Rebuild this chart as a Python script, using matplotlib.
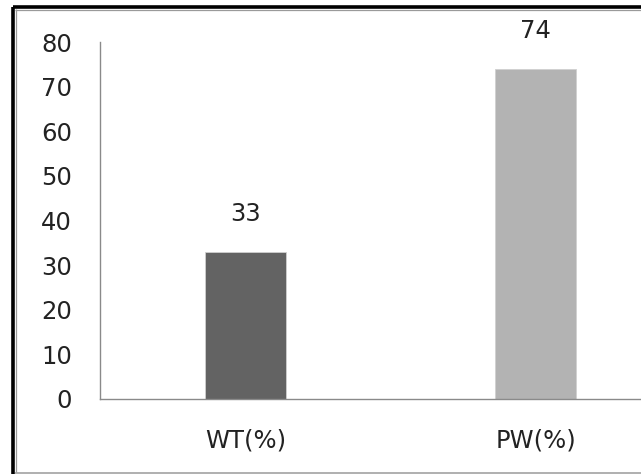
import matplotlib
matplotlib.use("Agg")
import matplotlib.pyplot as plt
from matplotlib.lines import Line2D

categories = ["WT(%)", "PW(%)"]
values = [33, 74]
bar_colors = ["#636363", "#b3b3b3"]
y_ticks = [0, 10, 20, 30, 40, 50, 60, 70, 80]

W, H = 641, 474
fig = plt.figure(figsize=(W / 100, H / 100), dpi=100)
fig.patch.set_facecolor("white")

plt.rcParams["font.family"] = ["DejaVu Sans"]
FS = 17.5
TXT = "#222222"

# axes spans wider than the figure so the right side is cropped
ax = fig.add_axes([100 / W, 75 / H, 581 / W, 357 / H])
x = list(range(len(categories)))
ax.bar(x, values, width=0.28, color=bar_colors, edgecolor="#d0d0d0", linewidth=0.6, zorder=2)

for xi, v in zip(x, values):
    ax.annotate(str(v), (xi, v), xytext=(0, 22), textcoords="offset points",
                ha="center", va="baseline", fontsize=FS, color=TXT)

ax.set_xlim(-0.5, 1.5)
ax.set_ylim(0, 80)
ax.set_yticks(y_ticks)
ax.set_xticks(x)
ax.set_xticklabels(categories)
ax.tick_params(axis="both", length=0, labelsize=FS, labelcolor=TXT)
ax.tick_params(axis="y", pad=20)
ax.tick_params(axis="x", pad=21)

for side in ("top", "right"):
    ax.spines[side].set_visible(False)
for side in ("left", "bottom"):
    ax.spines[side].set_color("#8a8a8a")
    ax.spines[side].set_linewidth(1.0)

# frame around the chart: dark left/top edge with a soft inner shade
def px(xp, yp):
    return xp / W, 1 - yp / H

def seg(x0, y0, x1, y1, color, lw):
    (a, b), (c, d) = px(x0, y0), px(x1, y1)
    fig.add_artist(Line2D([a, c], [b, d], color=color, linewidth=lw,
                          transform=fig.transFigure, solid_capstyle="butt"))

seg(13, 7, W, 7, "black", 2.6)
seg(13, 7, 13, 474, "black", 2.6)
seg(15, 9.5, W, 9.5, "#9a9a9a", 0.9)
seg(15.5, 9, 15.5, 472, "#9a9a9a", 0.9)
seg(15, 473, W, 473, "#9a9a9a", 1.1)

fig.savefig("out.png", dpi=100, facecolor="white")
